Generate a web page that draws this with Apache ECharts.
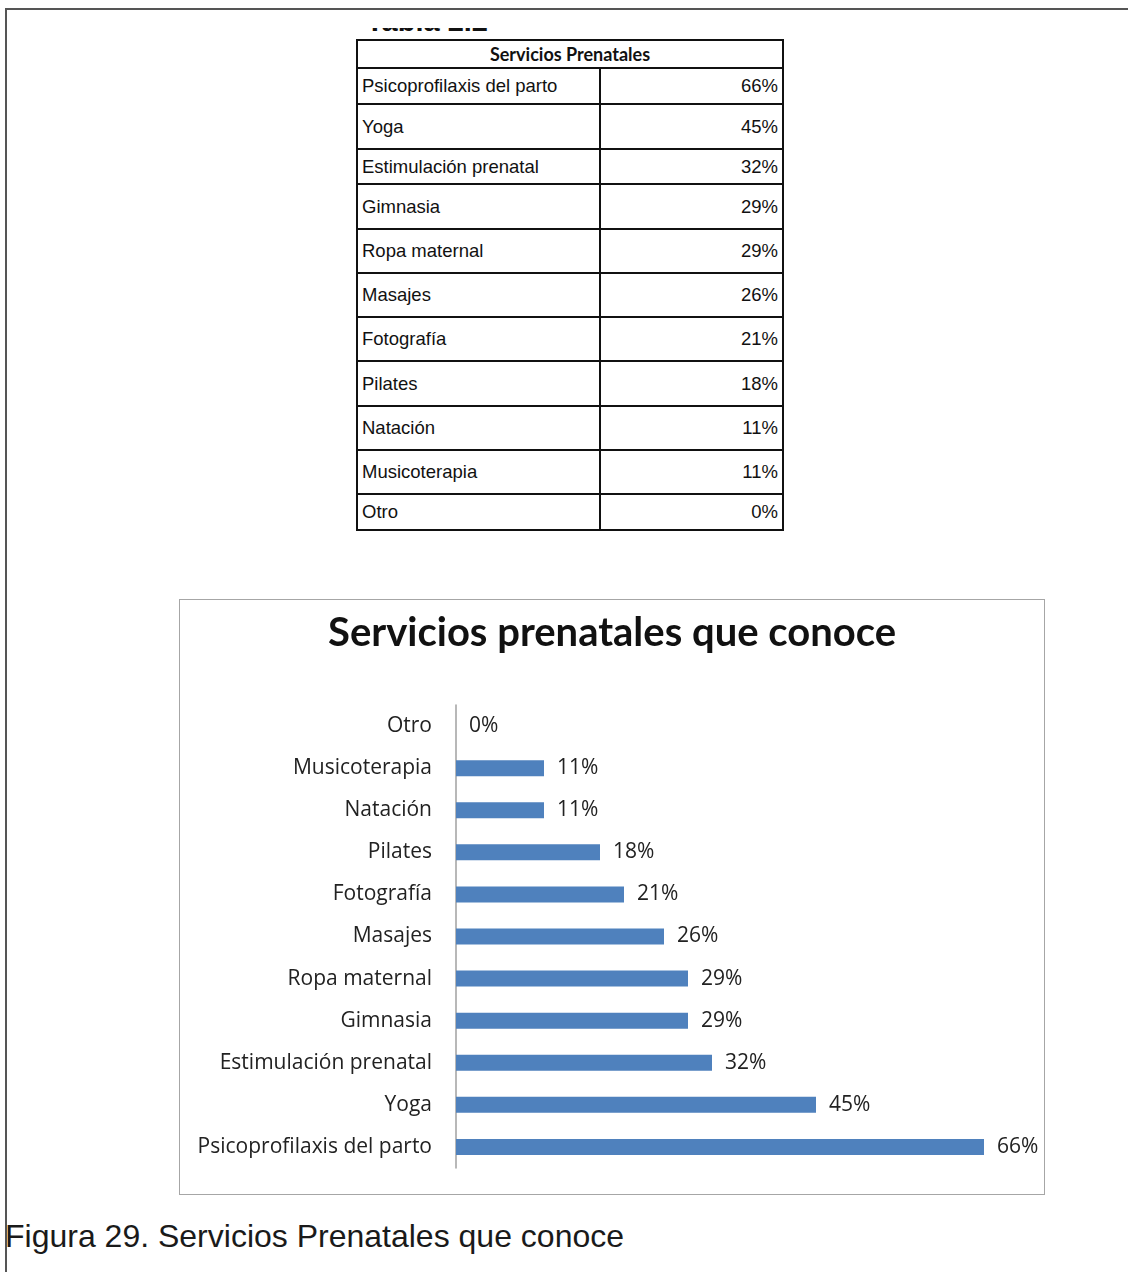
<!DOCTYPE html>
<html>
<head>
<meta charset="utf-8">
<script src="https://cdn.jsdelivr.net/npm/echarts@6/dist/echarts.min.js"></script>
<style>
  html,body{margin:0;padding:0;background:#fff;}
  body{width:1128px;height:1272px;position:relative;overflow:hidden;}
  #frameTop{position:absolute;left:6px;top:8px;width:1122px;height:0;border-top:2px solid #555;}
  #frameLeft{position:absolute;left:5px;top:8px;width:0;height:1264px;border-left:2px solid #555;}
  #tabClip{position:absolute;left:366px;top:28px;width:200px;height:4px;overflow:hidden;}
  #tabClip span{position:absolute;left:0;top:-24px;font-family:"Liberation Sans",Arial,sans-serif;font-size:29px;font-weight:bold;color:#111;line-height:34px;white-space:nowrap;}
  #tbl{position:absolute;left:356px;top:39px;border-collapse:collapse;font-family:"Liberation Sans",Arial,sans-serif;font-size:18.5px;color:#111;}
  #tbl td,#tbl th{border:2px solid #111;padding:0 4px;}
  #tbl th{font-family:Lato,"Open Sans",sans-serif;font-weight:bold;font-size:18px;height:26px;}
  #tbl td.n{text-align:left;width:233px;}
  #tbl td.v{text-align:right;width:173px;}
  #chart{position:absolute;left:179px;top:599px;width:864px;height:594px;border:1px solid #a6a6a6;}
  #caption{position:absolute;left:5px;top:1218px;font-family:"Liberation Sans",Arial,sans-serif;font-size:32px;color:#1a1a1a;white-space:nowrap;}
</style>
</head>
<body>
<div id="frameTop"></div>
<div id="frameLeft"></div>
<div id="tabClip"><span>Tabla 2.2</span></div>
<table id="tbl"></table>
<div id="chart"></div>
<div id="caption">Figura 29. Servicios Prenatales que conoce</div>
<script>
// ---- data ----
var tableTitle = "Servicios Prenatales";
var chartTitle = "Servicios prenatales que conoce";
var categories = ["Psicoprofilaxis del parto","Yoga","Estimulación prenatal","Gimnasia","Ropa maternal","Masajes","Fotografía","Pilates","Natación","Musicoterapia","Otro"];
var values = [66,45,32,29,29,26,21,18,11,11,0];

// ---- layout (not data) ----
var rowHeights = [36,45,35,45,44,44,44,45,44,44,36];

// table
var tbl = document.getElementById('tbl');
var html = '<tr><th colspan="2">' + tableTitle + '</th></tr>';
for (var i = 0; i < categories.length; i++) {
  html += '<tr style="height:' + rowHeights[i] + 'px"><td class="n">' + categories[i] + '</td><td class="v">' + values[i] + '%</td></tr>';
}
tbl.innerHTML = html;

// chart
var chart = echarts.init(document.getElementById('chart'), null, {renderer:'canvas'});
chart.setOption({
  animation:false,
  backgroundColor:'#fff',
  title:{
    text:chartTitle, left:'center', top:8,
    textStyle:{fontFamily:'Lato, "Open Sans", sans-serif', fontWeight:'bold', fontSize:40, color:'#111'}
  },
  grid:{left:276, top:105, width:560, height:463, containLabel:false},
  xAxis:{type:'value', min:0, max:70, show:false},
  yAxis:{
    type:'category', data:categories,
    axisLine:{show:true, lineStyle:{color:'#a0a0a0', width:1.5}},
    axisTick:{show:false},
    axisLabel:{fontFamily:'"Open Sans", Lato, sans-serif', fontSize:21, color:'#222', margin:24, padding:[4,0,0,0]}
  },
  series:[{
    type:'bar', data:values, barWidth:16,
    itemStyle:{color:'#4f81bd'},
    label:{show:true, position:'right', distance:13, formatter:'{c}%', padding:[5,0,0,0],
      fontFamily:'"Open Sans", Lato, sans-serif', fontSize:21, color:'#222'}
  }]
});
</script>
</body>
</html>
